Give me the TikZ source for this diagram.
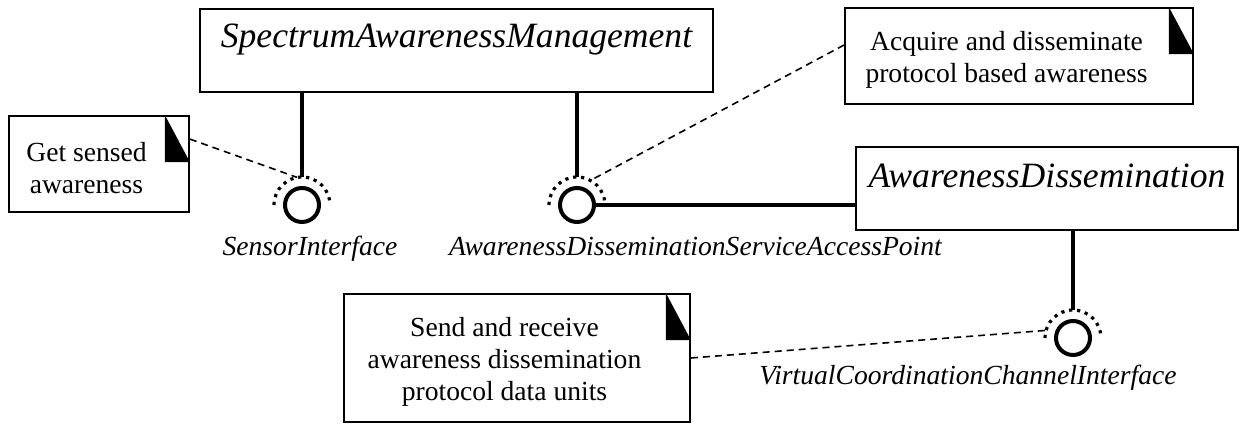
\documentclass[tikz,border=0pt]{standalone}
\usepackage{fontspec}
\setmainfont{Liberation Serif}
\usepackage{tikz}
\usetikzlibrary{positioning}

\newcommand{\classfont}{\fontsize{17.8}{21}\selectfont\itshape}
\newcommand{\notefont}{\fontsize{13.8}{16}\selectfont}
\newcommand{\ifacefont}{\fontsize{13.8}{16}\selectfont\itshape}

\begin{document}
\begin{tikzpicture}[x=0.5pt, y=0.5pt,
    classbox/.style={draw, line width=0.9pt, inner sep=0pt, font=\classfont, anchor=base},
    umlnote/.style={draw, line width=0.9pt, inner sep=0pt},
    notetext/.style={align=center, font=\notefont, xshift=-6.25pt, yshift=-2pt},
    socket/.style={circle, draw, line width=2pt, inner sep=0pt, minimum size=17pt},
    required/.style={line width=1.6pt, dash pattern=on 1.6pt off 2.4pt},
    stem/.style={line width=2pt},
    notelink/.style={line width=0.8pt, dash pattern=on 3.5pt off 2.5pt},
    iflabel/.style={font=\ifacefont, anchor=base, inner sep=0pt}]

    \useasboundingbox (0,0) rectangle (1241,426);

    %% components
    \node[classbox, minimum width=256.5pt, text height=19.5pt, text depth=22pt] (sam) at (456.5,378) {SpectrumAwarenessManagement};
    \node[classbox, minimum width=191pt, text height=20.5pt, text depth=21pt] (ad) at (1047,238) {AwarenessDissemination};

    %% provided interfaces with their required sockets
    \node[socket] (si) at (302,221) {};
    \node[socket] (adsap) at (577,221) {};
    \node[socket] (vcci) at (1073,88) {};
    \draw[required] (si.center) ++(180:28) arc (180:0:28);
    \draw[required] (adsap.center) ++(180:28) arc (180:0:28);
    \draw[required] (vcci.center) ++(180:28) arc (180:0:28);
    \coordinate (si-top) at ([shift={(90:28)}]si.center);
    \coordinate (adsap-top) at ([shift={(90:28)}]adsap.center);
    \coordinate (vcci-top) at ([shift={(90:28)}]vcci.center);

    \node[iflabel] (si-label) at (310,170) {SensorInterface};
    \node[iflabel] (adsap-label) at (695.5,170) {AwarenessDisseminationServiceAccessPoint};
    \node[iflabel] (vcci-label) at (968,41) {VirtualCoordinationChannelInterface};

    %% connections
    \draw[stem] (sam.south -| si) -- (si-top);
    \draw[stem] (sam.south -| adsap) -- (adsap-top);
    \draw[stem] (adsap.east) -- (adsap.east -| ad.west);
    \draw[stem] (ad.south -| vcci) -- (vcci-top);

    %% notes
    \node[umlnote, minimum width=90pt, minimum height=48pt,
        label={[notetext]center:Get sensed\\awareness}] (gsa) at (99,262) {};
    \node[umlnote, minimum width=174pt, minimum height=48pt,
        label={[notetext]center:Acquire and disseminate\\protocol based awareness}] (adp) at (1019,370) {};
    \node[umlnote, minimum width=173pt, minimum height=64pt,
        label={[notetext]center:Send and receive\\awareness dissemination\\protocol data units}] (sru) at (517,68) {};
    \fill (gsa.north east) ++(-25,0) -- ++(0,-47) -- ++(25,0) -- cycle;
    \fill (adp.north east) ++(-25,0) -- ++(0,-47) -- ++(25,0) -- cycle;
    \fill (sru.north east) ++(-25,0) -- ++(0,-47) -- ++(25,0) -- cycle;

    \draw[notelink] ([yshift=-12pt]gsa.north east) -- ([shift={(100:28)}]si.center);
    \draw[notelink] ([yshift=5.5pt]adp.west) -- ([shift={(60:29)}]adsap.center);
    \draw[notelink] (sru.east) -- ([shift={(165:29)}]vcci.center);

\end{tikzpicture}
\end{document}
